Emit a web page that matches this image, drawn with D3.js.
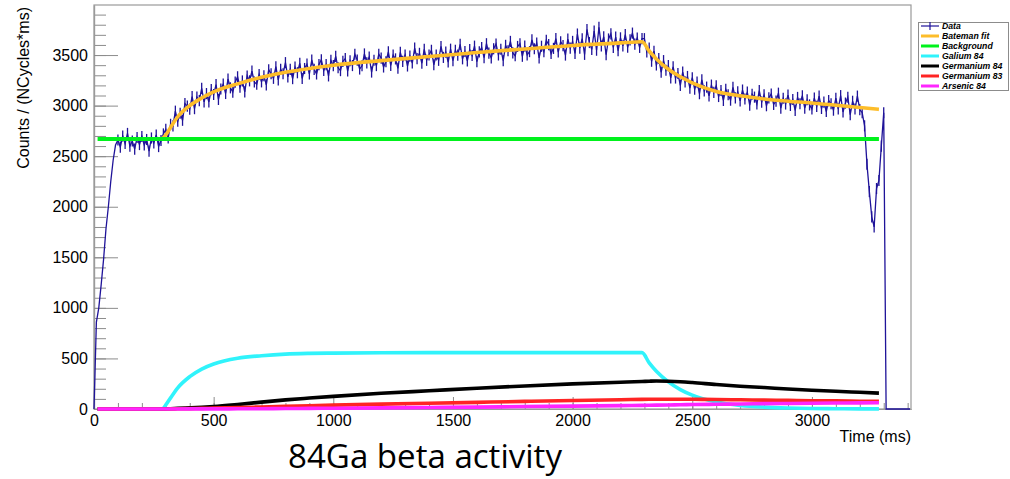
<!DOCTYPE html>
<html>
<head>
<meta charset="utf-8">
<script src="https://cdn.jsdelivr.net/npm/d3@7"></script>
<style>
  body { margin: 0; background: #fff; }
  text { font-family: "Liberation Sans", Arial, sans-serif; }
</style>
</head>
<body>
<div id="chart"></div>
<script>
// Measured counts, one value per 10 ms bin starting at t = 0
var binWidth = 10;
var dataError = 55; // error bar half-height on each bin
var dataCounts = [
    0, 860, 1000, 1230, 1480, 1780, 2000, 2250, 2460, 2610,
    2660, 2590, 2700, 2625, 2725, 2600, 2650, 2570, 2685, 2615,
    2695, 2610, 2665, 2550, 2680, 2630, 2710, 2595, 2655, 2720,
    2765, 2680, 2815, 2800, 2945, 2845, 2925, 2855, 3020, 2995,
    2965, 3090, 2970, 3085, 3050, 3170, 3037, 3119, 3036, 3158,
    3110, 3208, 3061, 3164, 3212, 3120, 3263, 3176, 3134, 3232,
    3285, 3182, 3244, 3136, 3293, 3245, 3342, 3234, 3211, 3308,
    3235, 3295, 3205, 3355, 3315, 3270, 3385, 3255, 3360, 3315,
    3425, 3284, 3358, 3267, 3381, 3325, 3419, 3268, 3367, 3410,
    3313, 3451, 3359, 3313, 3406, 3454, 3347, 3405, 3294, 3447,
    3395, 3487, 3374, 3346, 3438, 3465, 3342, 3444, 3396, 3508,
    3450, 3362, 3394, 3511, 3423, 3480, 3332, 3449, 3396, 3508,
    3470, 3382, 3434, 3531, 3398, 3500, 3462, 3369, 3526, 3438,
    3500, 3392, 3489, 3421, 3568, 3465, 3517, 3419, 3556, 3448,
    3500, 3547, 3404, 3501, 3448, 3585, 3477, 3529, 3431, 3558,
    3445, 3547, 3499, 3606, 3463, 3535, 3442, 3554, 3496, 3588,
    3435, 3532, 3574, 3475, 3612, 3519, 3471, 3562, 3609, 3501,
    3558, 3445, 3596, 3543, 3635, 3521, 3493, 3585, 3612, 3488,
    3590, 3502, 3534, 3650, 3562, 3619, 3471, 3587, 3534, 3646,
    3603, 3515, 3566, 3663, 3530, 3632, 3593, 3500, 3657, 3569,
    3635, 3517, 3708, 3569, 3661, 3507, 3753, 3624, 3556, 3737,
    3548, 3774, 3590, 3681, 3503, 3659, 3710, 3576, 3678, 3544,
    3670, 3591, 3703, 3579, 3650, 3717, 3608, 3669, 3576, 3662,
    3662, 3531, 3570, 3439, 3538, 3402, 3466, 3330, 3445, 3350,
    3395, 3274, 3383, 3273, 3318, 3200, 3332, 3235, 3288, 3172,
    3276, 3162, 3232, 3118, 3254, 3146, 3183, 3096, 3203, 3131,
    3195, 3090, 3150, 3051, 3162, 3108, 3054, 3180, 3076, 3137,
    3047, 3154, 3066, 3133, 3005, 3112, 3084, 3016, 3148, 3035,
    3106, 2999, 3077, 3115, 3012, 3045, 3123, 2975, 3073, 3016,
    3104, 3002, 3060, 2953, 3081, 3019, 3097, 2975, 3058, 3007,
    2966, 3074, 2992, 3094, 2972, 3035, 2942, 3050, 3018, 2955,
    3073, 2966, 3099, 2937, 3025, 3083, 2910, 3043, 2966, 3094,
    2960, 2930, 2800, 2420, 2150, 1900, 1800, 2180, 2260, 2600,
    2930, 0, 0, 0, 0, 0, 0, 0, 0, 0, 0, 0
];

// Fit curves, sampled at these times (ms)
var fitTimes = [15, 285, 300, 320, 350, 400, 450, 500, 600, 700, 800, 900, 1000, 1200, 1400, 1600,
    1800, 2000, 2200, 2290, 2320, 2350, 2400, 2450, 2500, 2600, 2700, 2800, 2900, 3000, 3100, 3200, 3280];
var batemanFit = [2670, 2670, 2710, 2785, 2890, 3000, 3075, 3135, 3215, 3280, 3330, 3368, 3400, 3445, 3485, 3525,
    3560, 3595, 3620, 3632, 3540, 3462, 3360, 3285, 3226, 3140, 3097, 3066, 3044, 3026, 3003, 2982, 2963];
var backgroundFit = [2670, 2670, 2670, 2670, 2670, 2670, 2670, 2670, 2670, 2670, 2670, 2670, 2670, 2670, 2670, 2670,
    2670, 2670, 2670, 2670, 2670, 2670, 2670, 2670, 2670, 2670, 2670, 2670, 2670, 2670, 2670, 2670, 2670];
var gallium84 = [0, 0, 40, 110, 210, 320, 395, 445, 502, 527, 543, 550, 553, 556, 557, 557,
    557, 557, 557, 557, 456, 373, 268, 192, 137, 70, 36, 19, 10, 5, 3, 1, 1];
var germanium84 = [0, 0, 1, 3, 7, 12, 18, 25, 45, 68, 90, 108, 125, 155, 180, 205,
    228, 248, 265, 272, 275, 277, 275, 270, 262, 242, 225, 212, 198, 186, 175, 165, 157];
var germanium83 = [0, 0, 0, 1, 2, 4, 6, 9, 14, 20, 26, 32, 38, 48, 57, 66,
    75, 84, 92, 95, 96, 97, 97, 97, 96, 94, 91, 88, 85, 82, 80, 77, 75];
var arsenic84 = [0, 0, 0, 0, 0, 1, 1, 1, 2, 3, 5, 6, 8, 11, 15, 19,
    24, 28, 33, 36, 37, 38, 40, 42, 44, 47, 50, 53, 55, 57, 59, 61, 62];

var xTickValues = [0, 500, 1000, 1500, 2000, 2500, 3000];
var yTickValues = [0, 500, 1000, 1500, 2000, 2500, 3000, 3500];
var legendLabels = ["Data", "Bateman fit", "Background", "Galium 84", "Germanium 84", "Germanium 83", "Arsenic 84"];

function init() {
    var w = 1010;
    var h = 479;
    var plot = { left: 94, right: 911, top: 5, bottom: 409 };

    var xScale = d3.scaleLinear().domain([0, 3414]).range([plot.left, plot.right]);
    var yScale = d3.scaleLinear().domain([0, 3995]).range([plot.bottom, plot.top]);

    var colors = ["#1f1399", "#fdbd2a", "#00f21c", "#30f3fb", "#000000", "#ff2424", "#ff26ff"];

    var svg = d3.select("#chart")
        .append("svg")
        .attr("width", w)
        .attr("height", h);

    // Frame
    svg.append("rect")
        .attr("x", plot.left)
        .attr("y", plot.top)
        .attr("width", plot.right - plot.left)
        .attr("height", plot.bottom - plot.top)
        .attr("fill", "none")
        .attr("stroke", "#9a9a9a")
        .attr("stroke-width", 1.2);

    // Minor ticks (every 100), drawn inward like ROOT
    var gxMinor = svg.append("g")
        .attr("transform", "translate(0," + plot.bottom + ")")
        .call(d3.axisBottom(xScale).tickValues(d3.range(0, 3414, 100)).tickSize(-6).tickSizeOuter(0).tickFormat(""));
    var gyMinor = svg.append("g")
        .attr("transform", "translate(" + plot.left + ",0)")
        .call(d3.axisLeft(yScale).tickValues(d3.range(0, 3995, 100)).tickSize(-12).tickSizeOuter(0).tickFormat(""));

    // Major ticks with labels
    var gx = svg.append("g")
        .attr("transform", "translate(0," + plot.bottom + ")")
        .call(d3.axisBottom(xScale).tickValues(xTickValues).tickSize(-12).tickSizeOuter(0)
            .tickPadding(6).tickFormat(d3.format("d")));
    var gy = svg.append("g")
        .attr("transform", "translate(" + plot.left + ",0)")
        .call(d3.axisLeft(yScale).tickValues(yTickValues).tickSize(-24).tickSizeOuter(0)
            .tickPadding(6).tickFormat(d3.format("d")));

    [gxMinor, gyMinor, gx, gy].forEach(function(g) {
        g.select(".domain").attr("stroke", "#9a9a9a").attr("stroke-width", 1.2);
        g.selectAll(".tick line").attr("stroke", "#8c8c8c");
        g.selectAll(".tick text")
            .attr("fill", "#000")
            .style("font-family", "'Liberation Sans', Arial, sans-serif")
            .style("font-size", "16px");
    });

    // Data histogram with error bars
    var line = d3.line()
        .x(d => xScale(d.t))
        .y(d => yScale(d.v));

    var dataPoints = dataCounts.map((v, i) => ({ t: i * binWidth, v: v }));

    svg.append("g")
        .selectAll("line")
        .data(dataPoints.filter(d => d.t >= 100 && d.v > 0))
        .join("line")
        .attr("x1", d => xScale(d.t))
        .attr("x2", d => xScale(d.t))
        .attr("y1", d => yScale(d.v - dataError))
        .attr("y2", d => yScale(d.v + dataError))
        .attr("stroke", colors[0])
        .attr("stroke-width", 1.3);

    svg.append("path")
        .datum(dataPoints)
        .attr("fill", "none")
        .attr("stroke", colors[0])
        .attr("stroke-width", 1.3)
        .attr("d", line);

    // Fit curves
    var fitLine = d3.line()
        .x(d => xScale(d.t))
        .y(d => yScale(d.v))
        .curve(d3.curveMonotoneX);

    var fits = [batemanFit, backgroundFit, gallium84, germanium84, germanium83, arsenic84];
    fits.forEach(function(series, i) {
        var pts = series.map((v, j) => ({ t: fitTimes[j], v: v }));
        if (i === 0) pts = pts.slice(1);
        svg.append("path")
            .datum(pts)
            .attr("fill", "none")
            .attr("stroke", colors[i + 1])
            .attr("stroke-width", i === 1 ? 4 : 3.6)
            .attr("d", fitLine);
    });

    // Legend
    var legend = svg.append("g");
    legend.append("rect")
        .attr("x", 918.5)
        .attr("y", 22.5)
        .attr("width", 90)
        .attr("height", 68)
        .attr("fill", "#fff")
        .attr("stroke", "#8c8c8c");

    legendLabels.forEach(function(label, i) {
        var ly = 26 + i * 10;
        legend.append("line")
            .attr("x1", 921).attr("x2", 939)
            .attr("y1", ly).attr("y2", ly)
            .attr("stroke", colors[i])
            .attr("stroke-width", i === 0 ? 1.2 : 3);
        if (i === 0) {
            legend.append("line")
                .attr("x1", 930).attr("x2", 930)
                .attr("y1", ly - 4).attr("y2", ly + 4)
                .attr("stroke", colors[0])
                .attr("stroke-width", 1.2);
        }
        legend.append("text")
            .attr("x", 942)
            .attr("y", ly + 3)
            .style("font-size", "8.7px")
            .style("font-weight", "bold")
            .style("font-style", "italic")
            .text(label);
    });

    // Axis titles
    svg.append("text")
        .attr("x", plot.right)
        .attr("y", 442)
        .attr("text-anchor", "end")
        .style("font-size", "16px")
        .text("Time (ms)");

    svg.append("text")
        .attr("text-anchor", "end")
        .attr("transform", "rotate(-90)")
        .attr("x", -7)
        .attr("y", 29)
        .style("font-size", "16px")
        .text("Counts / (NCycles*ms)");

    // Caption under the plot
    var caption = svg.append("text")
        .attr("x", 425)
        .attr("y", 468)
        .attr("text-anchor", "middle")
        .style("font-family", "'Open Sans', 'Noto Sans', sans-serif")
        .style("font-size", "32px")
        .text("84Ga beta activity");
    var cw = caption.node().getComputedTextLength();
    caption.style("font-size", (32 * 274 / cw) + "px");
}

window.onload = init;
</script>
</body>
</html>
